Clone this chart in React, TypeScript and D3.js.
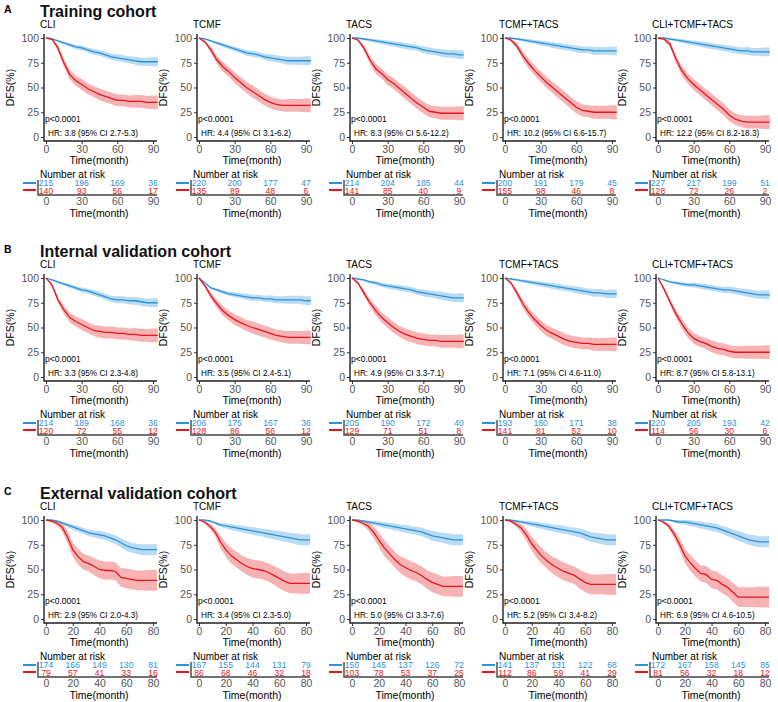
import React, { useRef, useEffect } from "react";
import * as d3 from "d3";

// cohort / model labels
const cohortLetters = ["A", "B", "C"];
const cohortTitles = ["Training cohort", "Internal validation cohort", "External validation cohort"];
const modelNames = ["CLI", "TCMF", "TACS", "TCMF+TACS", "CLI+TCMF+TACS"];

// time grids (months) and axis ticks
const timesAB = [0, 5, 10, 15, 20, 25, 30, 35, 40, 45, 50, 55, 60, 65, 70, 75, 80, 85, 90, 94];
const timesC = [0, 4, 8, 12, 16, 20, 24, 28, 32, 36, 40, 44, 48, 52, 56, 60, 64, 68, 72, 76, 80, 83];
const ticksAB = [0, 30, 60, 90];
const ticksC = [0, 20, 40, 60, 80];
const yTicks = [0, 25, 50, 75, 100];

// Training cohort DFS (%), low-risk (blue) / high-risk (red)
const trainLow = [
  [100, 99, 97, 95, 93, 91, 90, 88, 86, 85, 83, 81, 80, 79, 78, 77, 76, 76, 76, 76],
  [100, 99, 97, 95, 93, 91, 89, 87, 85, 84, 83, 81, 80, 79, 78, 77, 77, 77, 77, 77],
  [100, 100, 99, 98, 97, 96, 95, 94, 93, 92, 91, 90, 88, 87, 86, 85, 84, 84, 83, 83],
  [100, 100, 99, 98, 97, 96, 95, 94, 93, 92, 91, 90, 89, 88, 88, 87, 87, 87, 87, 87],
  [100, 100, 99, 98, 97, 96, 95, 94, 93, 92, 91, 90, 89, 88, 87, 87, 86, 86, 86, 86],
];
const trainHigh = [
  [100, 99, 90, 75, 63, 57, 53, 49, 46, 43, 41, 39, 37, 37, 36, 36, 36, 35, 35, 35],
  [100, 96, 88, 78, 71, 66, 60, 55, 50, 46, 42, 38, 35, 33, 32, 32, 32, 32, 32, 32],
  [100, 98, 90, 78, 69, 64, 58, 54, 49, 44, 39, 34, 30, 26, 25, 24, 24, 24, 24, 24],
  [100, 98, 92, 82, 74, 67, 61, 55, 50, 45, 40, 35, 30, 27, 26, 25, 25, 25, 25, 25],
  [100, 99, 94, 79, 67, 59, 53, 48, 43, 38, 33, 28, 22, 18, 16, 15, 15, 15, 15, 15],
];

// Internal validation cohort
const internalLow = [
  [100, 98, 96, 94, 92, 90, 88, 87, 85, 83, 81, 79, 78, 78, 77, 77, 76, 75, 75, 75],
  [100, 95, 90, 88, 86, 84, 83, 82, 81, 80, 80, 79, 79, 78, 78, 78, 78, 78, 77, 77],
  [100, 99, 98, 96, 95, 93, 92, 91, 90, 89, 88, 86, 85, 84, 83, 82, 81, 80, 80, 80],
  [100, 99, 98, 97, 96, 95, 94, 93, 92, 91, 90, 89, 88, 87, 86, 85, 85, 84, 84, 84],
  [100, 98, 96, 95, 94, 93, 93, 92, 91, 90, 89, 88, 88, 87, 86, 85, 84, 83, 83, 83],
];
const internalHigh = [
  [100, 93, 78, 68, 60, 56, 53, 50, 47, 46, 45, 45, 44, 44, 43, 43, 42, 42, 42, 42],
  [100, 92, 82, 74, 67, 62, 58, 55, 52, 50, 48, 46, 44, 42, 41, 40, 40, 40, 40, 40],
  [100, 95, 85, 75, 67, 60, 55, 50, 46, 43, 41, 39, 38, 37, 37, 36, 36, 36, 36, 36],
  [100, 95, 85, 74, 65, 58, 52, 47, 44, 41, 38, 36, 35, 34, 34, 33, 33, 33, 33, 33],
  [100, 89, 76, 64, 54, 45, 39, 36, 34, 31, 29, 28, 26, 25, 25, 25, 25, 25, 25, 25],
];

// External validation cohort
const externalLow = [
  [100, 100, 99, 97, 95, 93, 91, 89, 87, 86, 85, 84, 82, 80, 77, 74, 72, 71, 70, 70, 70, 70],
  [100, 100, 99, 97, 95, 94, 93, 92, 91, 90, 89, 88, 87, 86, 85, 84, 83, 82, 81, 80, 80, 80],
  [100, 100, 99, 98, 97, 96, 95, 94, 93, 92, 91, 90, 89, 88, 86, 84, 83, 82, 81, 80, 80, 80],
  [100, 100, 99, 98, 97, 96, 95, 94, 93, 92, 91, 90, 89, 88, 87, 85, 83, 82, 81, 80, 80, 80],
  [100, 100, 100, 99, 98, 98, 97, 96, 95, 94, 93, 92, 90, 88, 86, 84, 82, 80, 79, 78, 78, 78],
];
const externalHigh = [
  [100, 99, 97, 93, 83, 70, 63, 58, 56, 53, 50, 49, 49, 48, 42, 41, 40, 39, 39, 39, 39, 39],
  [100, 98, 94, 88, 78, 70, 64, 60, 56, 53, 51, 50, 49, 47, 44, 41, 38, 36, 36, 36, 36, 36],
  [100, 99, 97, 94, 88, 80, 72, 66, 60, 55, 52, 49, 47, 44, 40, 37, 35, 33, 33, 33, 33, 33],
  [100, 99, 96, 92, 85, 76, 69, 63, 58, 54, 51, 48, 46, 44, 40, 37, 35, 35, 35, 35, 35, 35],
  [100, 98, 94, 86, 76, 64, 57, 51, 46, 45, 40, 39, 35, 32, 27, 22, 22, 22, 22, 22, 22, 22],
];

// 95% CI half widths (percentage points), per cohort
const bandLowAB = [0, 0.5, 1, 1.5, 2, 2, 2.5, 2.5, 3, 3, 3, 3, 3.5, 3.5, 3.5, 4, 4, 4, 4.5, 4.5];
const bandHighAB = [0, 1.5, 3, 4, 5, 5, 5.5, 5.5, 5.5, 6, 6, 6, 6, 6, 6, 6.5, 6.5, 6.5, 7, 7];
const bandLowC = [0, 0, 1, 1.5, 2, 2.5, 3, 3, 3.5, 3.5, 4, 4, 4, 4.5, 4.5, 5, 5, 5, 5.5, 5.5, 5.5, 5.5];
const bandHighC = [0, 1.5, 2.5, 4, 6, 7, 8, 8, 8, 8.5, 9, 9, 9, 9, 9.5, 10, 10, 10, 10, 10.5, 10.5, 10.5];

// hazard ratio texts
const trainHR = ["3.8 (95% CI 2.7-5.3)", "4.4 (95% CI 3.1-6.2)", "8.3 (95% CI 5.6-12.2)", "10.2 (95% CI 6.6-15.7)", "12.2 (95% CI 8.2-18.3)"];
const internalHR = ["3.3 (95% CI 2.3-4.8)", "3.5 (95% CI 2.4-5.1)", "4.9 (95% CI 3.3-7.1)", "7.1 (95% CI 4.6-11.0)", "8.7 (95% CI 5.8-13.1)"];
const externalHR = ["2.9 (95% CI 2.0-4.3)", "3.4 (95% CI 2.3-5.0)", "5.0 (95% CI 3.3-7.6)", "5.2 (95% CI 3.4-8.2)", "6.9 (95% CI 4.6-10.5)"];

// number at risk tables
const trainRiskLow = [[215, 196, 169, 36], [220, 200, 177, 47], [214, 204, 185, 44], [200, 191, 179, 45], [227, 217, 199, 51]];
const trainRiskHigh = [[140, 93, 56, 17], [135, 89, 48, 6], [141, 85, 40, 9], [155, 98, 46, 8], [128, 72, 26, 2]];
const internalRiskLow = [[214, 189, 168, 36], [206, 175, 167, 36], [205, 190, 172, 40], [193, 180, 171, 38], [220, 205, 193, 42]];
const internalRiskHigh = [[120, 72, 55, 12], [128, 86, 56, 12], [129, 71, 51, 8], [141, 81, 52, 10], [114, 56, 30, 6]];
const externalRiskLow = [[174, 166, 149, 130, 81], [167, 155, 144, 131, 79], [150, 145, 137, 126, 72], [141, 137, 131, 122, 68], [172, 167, 158, 145, 85]];
const externalRiskHigh = [[79, 57, 41, 33, 16], [86, 68, 46, 32, 18], [103, 78, 53, 37, 25], [112, 86, 59, 41, 29], [81, 56, 32, 18, 12]];

const BLUE = "#2b93dc";
const RED = "#e8161c";
const FONT = "Liberation Sans, Arial, sans-serif";

const App = () => {
  const ref = useRef<SVGSVGElement>(null);

  useEffect(() => {
    const svg = d3.select(ref.current);
    svg.selectAll("*").remove();

    const cohorts = [
      { times: timesAB, ticks: ticksAB, low: trainLow, high: trainHigh, bl: bandLowAB, bh: bandHighAB, hr: trainHR, rl: trainRiskLow, rh: trainRiskHigh },
      { times: timesAB, ticks: ticksAB, low: internalLow, high: internalHigh, bl: bandLowAB, bh: bandHighAB, hr: internalHR, rl: internalRiskLow, rh: internalRiskHigh },
      { times: timesC, ticks: ticksC, low: externalLow, high: externalHigh, bl: bandLowC, bh: bandHighC, hr: externalHR, rl: externalRiskLow, rh: externalRiskHigh },
    ];
    const rowOffsets = [0, 240, 482];
    const colX = [44, 197, 350, 503, 656];

    cohorts.forEach((c, r) => {
      const row = svg.append("g").attr("transform", `translate(0, ${rowOffsets[r]})`);
      row.append("text").attr("x", 4).attr("y", 12.5).attr("font-size", 10.5).attr("font-weight", "bold").text(cohortLetters[r]);
      row.append("text").attr("x", 40).attr("y", 16.5).attr("font-size", 16).attr("font-weight", "bold").attr("fill", "#111").text(cohortTitles[r]);

      modelNames.forEach((name, i) => {
        const x0 = colX[i];
        const g = row.append("g");
        const maxT = c.ticks[c.ticks.length - 1];
        const x = d3.scaleLinear().domain([0, maxT]).range([x0 + 2, x0 + 109]);
        const y = d3.scaleLinear().domain([0, 100]).range([137, 38]);

        g.append("text").attr("x", x0 - 4).attr("y", 27.5).attr("font-size", 10).text(name);

        // bands and curves
        const groups = [
          { s: c.low, b: c.bl, col: BLUE },
          { s: c.high, b: c.bh, col: RED },
        ];
        groups.forEach((gr) => {
          const vals = gr.s[i];
          const pts = c.times.map((t, k) => ({ t, v: vals[k], w: gr.b[k] }));
          const area = d3.area<any>()
            .x((d) => x(d.t))
            .y0((d) => y(Math.max(0, d.v - d.w)))
            .y1((d) => y(Math.min(100, d.v + d.w)));
          g.append("path").attr("d", area(pts)).attr("fill", gr.col).attr("fill-opacity", 0.33);
        });
        groups.forEach((gr) => {
          const vals = gr.s[i];
          const pts = c.times.map((t, k) => ({ t, v: vals[k] }));
          const line = d3.line<any>().x((d) => x(d.t)).y((d) => y(d.v));
          g.append("path").attr("d", line(pts)).attr("fill", "none").attr("stroke", gr.col).attr("stroke-width", 1.3);
        });

        // axes
        const yAxis = d3.axisLeft(y).tickValues(yTicks).tickSize(3).tickPadding(2);
        const ya = g.append("g").attr("transform", `translate(${x0},0)`).call(yAxis);
        ya.select(".domain").remove();
        const xAxis = d3.axisBottom(x).tickValues(c.ticks).tickSize(3).tickPadding(2);
        const xa = g.append("g").attr("transform", "translate(0,141)").call(xAxis);
        xa.select(".domain").remove();
        [ya, xa].forEach((a) => {
          a.selectAll("line").attr("stroke", "#333");
          a.selectAll("text").attr("font-size", 10.5).attr("fill", "#555").attr("font-family", FONT);
        });
        g.append("path").attr("d", `M${x0},34V141H${x0 + 113}`).attr("fill", "none").attr("stroke", "#222").attr("stroke-width", 1.4);

        g.append("text").attr("transform", `translate(${x0 - 30},87.5) rotate(-90)`).attr("text-anchor", "middle").attr("font-size", 10.5).text("DFS(%)");
        g.append("text").attr("x", x0 + 55).attr("y", 164).attr("text-anchor", "middle").attr("font-size", 10.5).text("Time(month)");

        g.append("text").attr("x", x0 + 1).attr("y", 121.5).attr("font-size", 8.5).text("p<0.0001");
        g.append("text").attr("x", x0 + 4).attr("y", 135.5).attr("font-size", 8.2).text("HR: " + c.hr[i]);

        // risk table
        g.append("text").attr("x", x0 - 4).attr("y", 177.5).attr("font-size", 10).text("Number at risk");
        g.append("line").attr("x1", x0 - 21).attr("x2", x0 - 8).attr("y1", 183).attr("y2", 183).attr("stroke", BLUE).attr("stroke-width", 2);
        g.append("line").attr("x1", x0 - 21).attr("x2", x0 - 8).attr("y1", 190).attr("y2", 190).attr("stroke", RED).attr("stroke-width", 2);
        g.selectAll(".rl").data(c.rl[i]).enter().append("text")
          .attr("x", (_d, k) => x(c.ticks[k])).attr("y", 186).attr("text-anchor", "middle")
          .attr("font-size", 8.6).attr("fill", BLUE).text((d) => d);
        g.selectAll(".rh").data(c.rh[i]).enter().append("text")
          .attr("x", (_d, k) => x(c.ticks[k])).attr("y", 193.5).attr("text-anchor", "middle")
          .attr("font-size", 8.6).attr("fill", RED).text((d) => d);
        const ra = g.append("g").attr("transform", "translate(0,195)").call(d3.axisBottom(x).tickValues(c.ticks).tickSize(0).tickPadding(3));
        ra.select(".domain").remove();
        ra.selectAll("text").attr("font-size", 10.5).attr("fill", "#555").attr("font-family", FONT);
        g.append("path").attr("d", `M${x0 - 6},180V195H${x0 + 113}`).attr("fill", "none").attr("stroke", "#444").attr("stroke-width", 1.4);
        g.append("text").attr("x", x0 + 55).attr("y", 217).attr("text-anchor", "middle").attr("font-size", 10.5).text("Time(month)");
      });
    });
  }, []);

  return (
    <svg ref={ref} width={778} height={702} style={{ position: "absolute", left: 0, top: 0, background: "#fff" }} fontFamily={FONT} />
  );
};

export default App;
